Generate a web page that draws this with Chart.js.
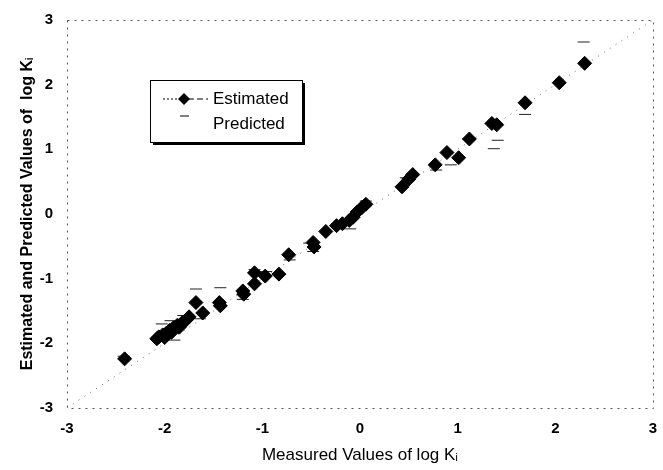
<!DOCTYPE html>
<html><head><meta charset="utf-8">
<script src="https://cdn.jsdelivr.net/npm/chart.js@4/dist/chart.umd.min.js"></script>
<style>html,body{margin:0;padding:0;background:#fff}#wrap{width:663px;height:470px}</style>
</head><body><div id="wrap"><canvas id="c" width="663" height="470"></canvas></div>
<script>
const estX = [-2.41,2.30,2.04,1.69,1.35,1.40,1.12,0.89,1.01,0.77,0.43,0.50,0.54,0.06,0.02,-0.03,-0.07,-0.11,-0.18,-0.24,-0.35,-0.48,-0.47,-0.73,-0.83,-0.97,-1.08,-1.08,-1.20,-1.19,-1.44,-1.43,-1.68,-1.61,-1.75,-1.78,-1.82,-1.87,-1.91,-1.95,-1.98,-2.02,-2.06,-2.08,-2.00,-1.93,-1.85];
const estY = [-2.24,2.33,2.03,1.72,1.40,1.38,1.16,0.95,0.87,0.76,0.42,0.54,0.61,0.15,0.10,0.03,-0.05,-0.10,-0.15,-0.18,-0.27,-0.44,-0.51,-0.63,-0.93,-0.96,-0.91,-1.08,-1.19,-1.24,-1.37,-1.42,-1.37,-1.53,-1.59,-1.64,-1.68,-1.72,-1.76,-1.80,-1.84,-1.87,-1.90,-1.93,-1.91,-1.83,-1.75];
const predX = [1.69,2.29,1.41,1.37,0.78,0.93,-0.10,0.06,-0.48,-0.72,-1.08,-0.96,-1.20,-1.68,-1.43,-1.64,-1.94,-2.03,-1.90,-1.81,-2.09,-2.42,0.43,0.47,1.11,2.04,-0.20,-0.52];
const predY = [1.54,2.66,1.14,1.01,0.68,0.76,-0.23,0.20,-0.58,-0.71,-0.86,-0.89,-1.32,-1.16,-1.14,-1.62,-1.65,-1.70,-1.95,-1.57,-1.92,-2.20,0.43,0.56,1.16,2.02,-0.12,-0.45];
const refLine = [-3, 3];
const seriesNames = ["Estimated", "Predicted"];
const xTitle = "Measured Values of log K\u1D62";
const yTitle = "Estimated and Predicted Values of  log K\u1D62";

const pts = (xs, ys) => xs.map((x, i) => ({x: x, y: ys[i]}));
const FONT = "'Liberation Sans', Arial, sans-serif";

const legendPlugin = {
  id: 'boxLegend',
  afterDraw(chart) {
    const ctx = chart.ctx;
    const x0 = 150, y0 = 80, w = 152, h = 62;
    ctx.save();
    ctx.fillStyle = '#000';
    ctx.fillRect(x0 + 3, y0 + 3, w, h);
    ctx.fillStyle = '#fff';
    ctx.fillRect(x0, y0, w, h);
    ctx.strokeStyle = '#000';
    ctx.lineWidth = 1;
    ctx.strokeRect(x0 + 0.5, y0 + 0.5, w, h);
    const r1 = y0 + 19;
    ctx.setLineDash([2, 2]);
    ctx.beginPath(); ctx.moveTo(x0 + 13, r1); ctx.lineTo(x0 + 30, r1); ctx.stroke();
    ctx.setLineDash([6, 3]);
    ctx.beginPath(); ctx.moveTo(x0 + 38, r1); ctx.lineTo(x0 + 58, r1); ctx.stroke();
    ctx.setLineDash([]);
    ctx.fillStyle = '#000';
    ctx.beginPath();
    ctx.moveTo(x0 + 34, r1 - 6); ctx.lineTo(x0 + 40, r1); ctx.lineTo(x0 + 34, r1 + 6); ctx.lineTo(x0 + 28, r1);
    ctx.closePath(); ctx.fill();
    const r2 = y0 + 44;
    ctx.beginPath(); ctx.moveTo(x0 + 30, r2 - 8); ctx.lineTo(x0 + 39, r2 - 8); ctx.stroke();
    ctx.font = '17px ' + FONT;
    ctx.textBaseline = 'middle';
    ctx.textAlign = 'left';
    ctx.fillText(seriesNames[0], x0 + 63, r1);
    ctx.fillText(seriesNames[1], x0 + 63, r2);
    ctx.restore();
  }
};

const framePlugin = {
  id: 'frame',
  beforeDatasetsDraw(chart) {
    const a = chart.chartArea, ctx = chart.ctx;
    ctx.save();
    ctx.strokeStyle = '#555';
    ctx.lineWidth = 1;
    ctx.setLineDash([2, 5]);
    ctx.strokeRect(Math.round(a.left) + 0.5, Math.round(a.top) + 0.5, Math.round(a.right - a.left), Math.round(a.bottom - a.top));
    ctx.restore();
  }
};

new Chart(document.getElementById('c'), {
  type: 'scatter',
  data: {
    datasets: [
      { label: 'ref', data: pts(refLine, refLine), showLine: true, pointRadius: 0, borderColor: '#666', borderWidth: 1, borderDash: [1, 6], order: 3 },
      { label: seriesNames[1], data: pts(predX, predY), pointStyle: 'line', pointRadius: 6, borderColor: '#222', borderWidth: 1, backgroundColor: '#222', order: 2 },
      { label: seriesNames[0], data: pts(estX, estY), pointStyle: 'rectRot', pointRadius: 7, borderColor: '#000', backgroundColor: '#000', borderWidth: 1, order: 1 }
    ]
  },
  options: {
    responsive: false,
    animation: false,
    layout: { padding: { top: 20, right: 10, left: 14, bottom: 0 } },
    plugins: { legend: { display: false }, tooltip: { enabled: false } },
    scales: {
      x: {
        type: 'linear', min: -3, max: 3,
        ticks: { stepSize: 1, color: '#000', font: { family: FONT, size: 15, weight: 'bold' }, padding: 12, maxRotation: 0 },
        grid: { display: false, drawTicks: false },
        border: { display: false },
        title: { display: true, text: xTitle, color: '#000', font: { family: FONT, size: 17 }, padding: { top: 2 } },
        afterFit(s) { s.height = 62; s.paddingLeft = 0; s.paddingRight = 0; }
      },
      y: {
        type: 'linear', min: -3, max: 3,
        ticks: { stepSize: 1, color: '#000', font: { family: FONT, size: 15, weight: 'bold' }, padding: 14 },
        grid: { display: false, drawTicks: false },
        border: { display: false },
        title: { display: true, text: yTitle, color: '#000', font: { family: FONT, size: 16, weight: 'bold' }, padding: { bottom: 0 } },
        afterFit(s) { s.width = 53; s.paddingTop = 0; s.paddingBottom = 0; }
      }
    }
  },
  plugins: [framePlugin, legendPlugin]
});
</script></body></html>
